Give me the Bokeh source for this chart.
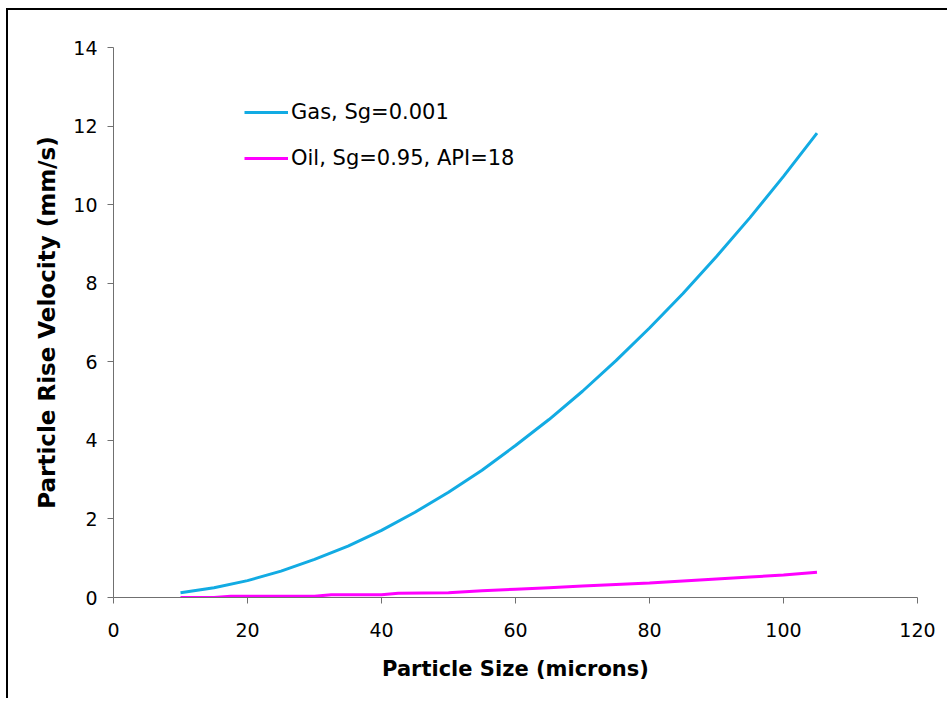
from bokeh.plotting import figure
from bokeh.models import Range1d, FixedTicker, Legend, LegendItem
from bokeh.embed import file_html
from bokeh.resources import INLINE

# Data
gas_size = [10, 15, 20, 25, 30, 35, 40, 45, 50, 55, 60, 65, 70, 75, 80, 85, 90, 95, 100, 105]
gas_velocity = [0.12, 0.25, 0.43, 0.67, 0.97, 1.31, 1.71, 2.17, 2.68, 3.24, 3.87, 4.53,
                5.25, 6.03, 6.86, 7.74, 8.68, 9.67, 10.72, 11.82]
oil_size = [10, 15, 17.5, 30, 32.5, 40, 42.5, 50, 55, 60, 65, 70, 75, 80, 85, 90, 95, 100, 105]
oil_velocity = [0.0, 0.0, 0.03, 0.03, 0.07, 0.07, 0.11, 0.12, 0.17, 0.21, 0.25, 0.29,
                0.33, 0.37, 0.42, 0.47, 0.52, 0.57, 0.64]
x_ticks = [0, 20, 40, 60, 80, 100, 120]
y_ticks = [0, 2, 4, 6, 8, 10, 12, 14]
gas_label = "Gas, Sg=0.001"
oil_label = "Oil, Sg=0.95, API=18"
x_title = "Particle Size (microns)"
y_title = "Particle Rise Velocity (mm/s)"

FONT = "DejaVu Sans"
OX, OY = 8, 10  # canvas offset (outer frame drawn as a shadow just outside the canvas)

p = figure(width=949 - OX, height=704 - OY - 4, output_backend="svg", toolbar_location=None,
           x_range=Range1d(0, 120), y_range=Range1d(0, 14),
           min_border_left=113 - OX, min_border_right=32, min_border_top=47 - OY,
           min_border_bottom=103)
p.margin = (OY, 0, 0, OX)
p.styles = {"box-shadow": "-2px -2px 0px 0px black"}
p.background_fill_color = "white"
p.border_fill_color = "white"
p.outline_line_color = None
p.xgrid.visible = False
p.ygrid.visible = False

for ax in (p.xaxis[0], p.yaxis[0]):
    ax.axis_line_color = "#707070"
    ax.major_tick_line_color = "#707070"
    ax.minor_tick_line_color = None
    ax.major_tick_in = 0
    ax.major_tick_out = 6
    ax.major_label_text_font = FONT
    ax.major_label_text_font_size = "19px"
    ax.major_label_text_color = "black"
    ax.axis_label_text_font = FONT
    ax.axis_label_text_font_style = "bold"
    ax.axis_label_text_color = "black"

p.xaxis.axis_label_text_font_size = "21px"
p.yaxis.axis_label_text_font_size = "23px"
p.xaxis.ticker = FixedTicker(ticks=x_ticks)
p.yaxis.ticker = FixedTicker(ticks=y_ticks)
p.xaxis.axis_label = x_title
p.yaxis.axis_label = y_title
p.xaxis.major_label_standoff = 19
p.xaxis.axis_label_standoff = 17
p.yaxis.major_label_standoff = 10
p.yaxis.axis_label_standoff = 10

g = p.line(gas_size, gas_velocity, line_color="#12ABE3", line_width=3)
o = p.line(oil_size, oil_velocity, line_color="#FF00FF", line_width=3)

legend = Legend(items=[LegendItem(label=gas_label, renderers=[g]),
                       LegendItem(label=oil_label, renderers=[o])],
                location=(131, 427))
legend.border_line_color = None
legend.background_fill_alpha = 0
legend.padding = 0
legend.margin = 0
legend.glyph_width = 44
legend.glyph_height = 20
legend.label_height = 20
legend.spacing = 22
legend.label_standoff = 3
legend.label_text_font = FONT
legend.label_text_font_size = "21px"
legend.label_text_color = "black"
p.add_layout(legend)

open("out.html", "w").write(file_html(p, INLINE))
